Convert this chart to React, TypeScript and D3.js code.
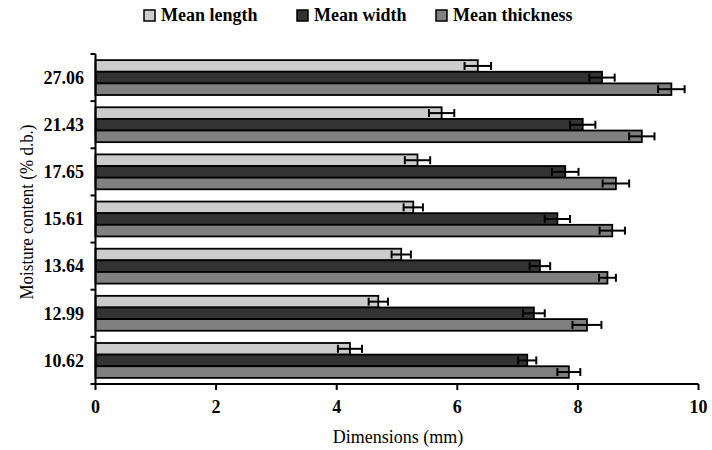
import React from "react";
import * as d3 from "d3";

const categories = ["27.06", "21.43", "17.65", "15.61", "13.64", "12.99", "10.62"];
const seriesNames = ["Mean length", "Mean width", "Mean thickness"];
const meanLength = [6.34, 5.74, 5.34, 5.27, 5.07, 4.69, 4.22];
const meanWidth = [8.40, 8.08, 7.79, 7.66, 7.37, 7.27, 7.16];
const meanThickness = [9.55, 9.06, 8.63, 8.57, 8.49, 8.15, 7.85];
const errLength = [0.22, 0.21, 0.21, 0.16, 0.16, 0.16, 0.20];
const errWidth = [0.21, 0.21, 0.22, 0.21, 0.17, 0.18, 0.15];
const errThickness = [0.22, 0.21, 0.22, 0.21, 0.14, 0.24, 0.19];
const xTicks = [0, 2, 4, 6, 8, 10];
const colors = ["#cccccc", "#333333", "#808080"];

const W = 712;
const H = 450;
const left = 95.5;
const right = 698.5;
const top = 54;
const bottom = 384;
const FONT = "Liberation Serif, DejaVu Serif, serif";

export default function App() {
  const x = d3.scaleLinear().domain([0, 10]).range([left, right]);
  const y = d3.scaleBand<string>().domain(categories).range([top, bottom]).paddingInner(0.26).paddingOuter(0.13);
  const sub = d3.scaleBand<number>().domain([0, 1, 2]).range([0, y.bandwidth()]);
  const values = [meanLength, meanWidth, meanThickness];
  const errs = [errLength, errWidth, errThickness];
  const step = (bottom - top) / categories.length;
  const boundaries = d3.range(categories.length + 1).map((i) => top + i * step);

  const legendX = [144, 297, 436];

  return (
    <svg width={W} height={H} style={{ position: "absolute", left: 0, top: 0, background: "#fff", fontFamily: FONT }}>
      {categories.map((c, ci) => (
        <g key={c}>
          {values.map((vals, si) => {
            const y0 = (y(c) as number) + (sub(si) as number);
            const h = sub.bandwidth();
            const v = vals[ci];
            const e = errs[si][ci];
            const cy = y0 + h / 2;
            return (
              <g key={si}>
                <rect x={x(0)} y={y0} width={x(v) - x(0)} height={h} fill={colors[si]} stroke="#000" strokeWidth={1.8} />
                <line x1={x(v - e)} x2={x(v + e)} y1={cy} y2={cy} stroke="#000" strokeWidth={2} />
                <line x1={x(v - e)} x2={x(v - e)} y1={cy - 4} y2={cy + 4} stroke="#000" strokeWidth={2} />
                <line x1={x(v + e)} x2={x(v + e)} y1={cy - 4} y2={cy + 4} stroke="#000" strokeWidth={2} />
              </g>
            );
          })}
        </g>
      ))}
      <line x1={left} x2={left} y1={top} y2={bottom} stroke="#000" strokeWidth={2} />
      {boundaries.map((b, i) => (
        <line key={i} x1={left - 5} x2={left} y1={b} y2={b} stroke="#000" strokeWidth={2} />
      ))}
      {categories.map((c) => (
        <text key={c} x={84} y={(y(c) as number) + y.bandwidth() / 2} dy="0.35em" textAnchor="end"
          fontWeight="bold" fontSize={18}>{c}</text>
      ))}
      <line x1={left} x2={right} y1={bottom} y2={bottom} stroke="#000" strokeWidth={2} />
      {xTicks.map((t) => (
        <g key={t}>
          <line x1={x(t)} x2={x(t)} y1={bottom} y2={bottom + 6} stroke="#000" strokeWidth={2} />
          <text x={x(t)} y={413} textAnchor="middle" fontWeight="bold" fontSize={18}>{t}</text>
        </g>
      ))}
      <text x={398} y={443} textAnchor="middle" fontSize={18}>Dimensions (mm)</text>
      <text transform={`translate(33, 212) rotate(-90) scale(1, 1.1)`} textAnchor="middle" fontSize={17}>
        Moisture content (% d.b.)
      </text>
      {seriesNames.map((n, i) => (
        <g key={n}>
          <rect x={legendX[i]} y={10} width={11} height={11} fill={colors[i]} stroke="#000" strokeWidth={1.5} />
          <text x={legendX[i] + 17} y={21} fontWeight="bold" fontSize={18}>{n}</text>
        </g>
      ))}
    </svg>
  );
}
